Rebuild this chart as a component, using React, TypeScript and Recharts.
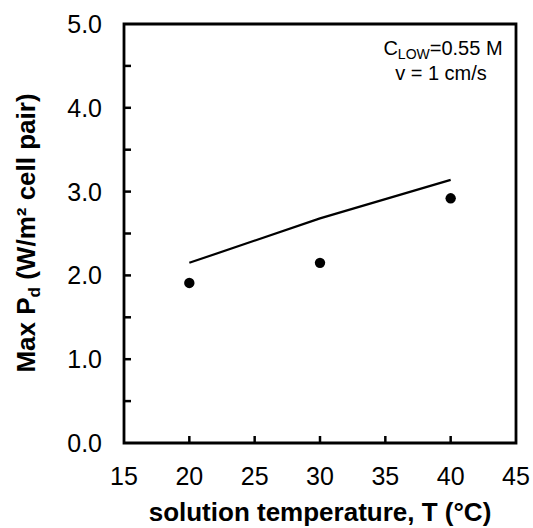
import {
  ComposedChart,
  Line,
  Scatter,
  XAxis,
  YAxis,
  ReferenceArea,
} from "recharts";

// solution temperature (°C)
const temperatures = [20, 30, 40];
// model curve, Max Pd (W/m² cell pair)
const modelPd = [2.15, 2.68, 3.14];
// measured points
const measuredPd = [1.91, 2.15, 2.92];

const xTicks = [15, 20, 25, 30, 35, 40, 45];
const yTicks = [0, 0.5, 1, 1.5, 2, 2.5, 3, 3.5, 4, 4.5, 5];

const FONT = '"Liberation Sans", Arial, sans-serif';
const TICK_LEN = 7;

const data = temperatures.map((t, i) => ({
  t,
  model: modelPd[i],
  measured: measuredPd[i],
}));

function XTick(props: any) {
  const { x, y, payload } = props;
  const v = payload.value as number;
  const edge = v === xTicks[0] || v === xTicks[xTicks.length - 1];
  return (
    <g>
      {!edge && <line x1={x} x2={x} y1={y} y2={y - TICK_LEN} stroke="#000" strokeWidth={2.5} />}
      <text x={x} y={y + 42} textAnchor="middle" fontSize={25} fontFamily={FONT} fill="#000">
        {v}
      </text>
    </g>
  );
}

function YTick(props: any) {
  const { x, y, payload } = props;
  const v = payload.value as number;
  const edge = v === yTicks[0] || v === yTicks[yTicks.length - 1];
  const major = Number.isInteger(v);
  return (
    <g>
      {!edge && <line x1={x} x2={x + TICK_LEN} y1={y} y2={y} stroke="#000" strokeWidth={2.5} />}
      {major && (
        <text x={x - 22} y={y} dy="0.36em" textAnchor="end" fontSize={25} fontFamily={FONT} fill="#000">
          {v.toFixed(1)}
        </text>
      )}
    </g>
  );
}

export default function App() {
  return (
    <div style={{ position: "absolute", left: 0, top: 0, background: "#fff" }}>
      <ComposedChart
        width={533}
        height={528}
        data={data}
        margin={{ top: 24, right: 17, left: 0, bottom: 0 }}
      >
        <XAxis
          dataKey="t"
          type="number"
          domain={[15, 45]}
          ticks={xTicks}
          interval={0}
          height={85}
          axisLine={false}
          tickLine={false}
          tickSize={0}
          tickMargin={0}
          tick={<XTick />}
        />
        <YAxis
          type="number"
          domain={[0, 5]}
          ticks={yTicks}
          interval={0}
          width={124}
          axisLine={false}
          tickLine={false}
          tickSize={0}
          tickMargin={0}
          tick={<YTick />}
        />
        <ReferenceArea x1={15} x2={45} y1={0} y2={5} fill="none" stroke="#000" strokeWidth={2.8} />
        <Line
          dataKey="model"
          type="linear"
          stroke="#000"
          strokeWidth={2.2}
          dot={false}
          isAnimationActive={false}
        />
        <Scatter
          dataKey="measured"
          fill="#000"
          isAnimationActive={false}
          shape={(p: any) => <circle cx={p.cx} cy={p.cy} r={5.2} fill="#000" />}
        />
        <text x={443} y={55} textAnchor="middle" fontSize={20} fontFamily={FONT} fill="#000">
          C<tspan fontSize={14} dy={4}>LOW</tspan>
          <tspan dy={-4}>=0.55 M</tspan>
        </text>
        <text x={441} y={80} textAnchor="middle" fontSize={20} fontFamily={FONT} fill="#000">
          v = 1 cm/s
        </text>
        <text x={320} y={521} textAnchor="middle" fontSize={26} fontWeight="bold" fontFamily={FONT} fill="#000">
          solution temperature, T (°C)
        </text>
        <text
          x={35}
          y={233}
          transform="rotate(-90, 35, 233)"
          textAnchor="middle"
          fontSize={26}
          fontWeight="bold"
          fontFamily={FONT}
          fill="#000"
        >
          Max P<tspan fontSize={17} dy={5}>d</tspan>
          <tspan dy={-5}> (W/m² cell pair)</tspan>
        </text>
      </ComposedChart>
    </div>
  );
}
